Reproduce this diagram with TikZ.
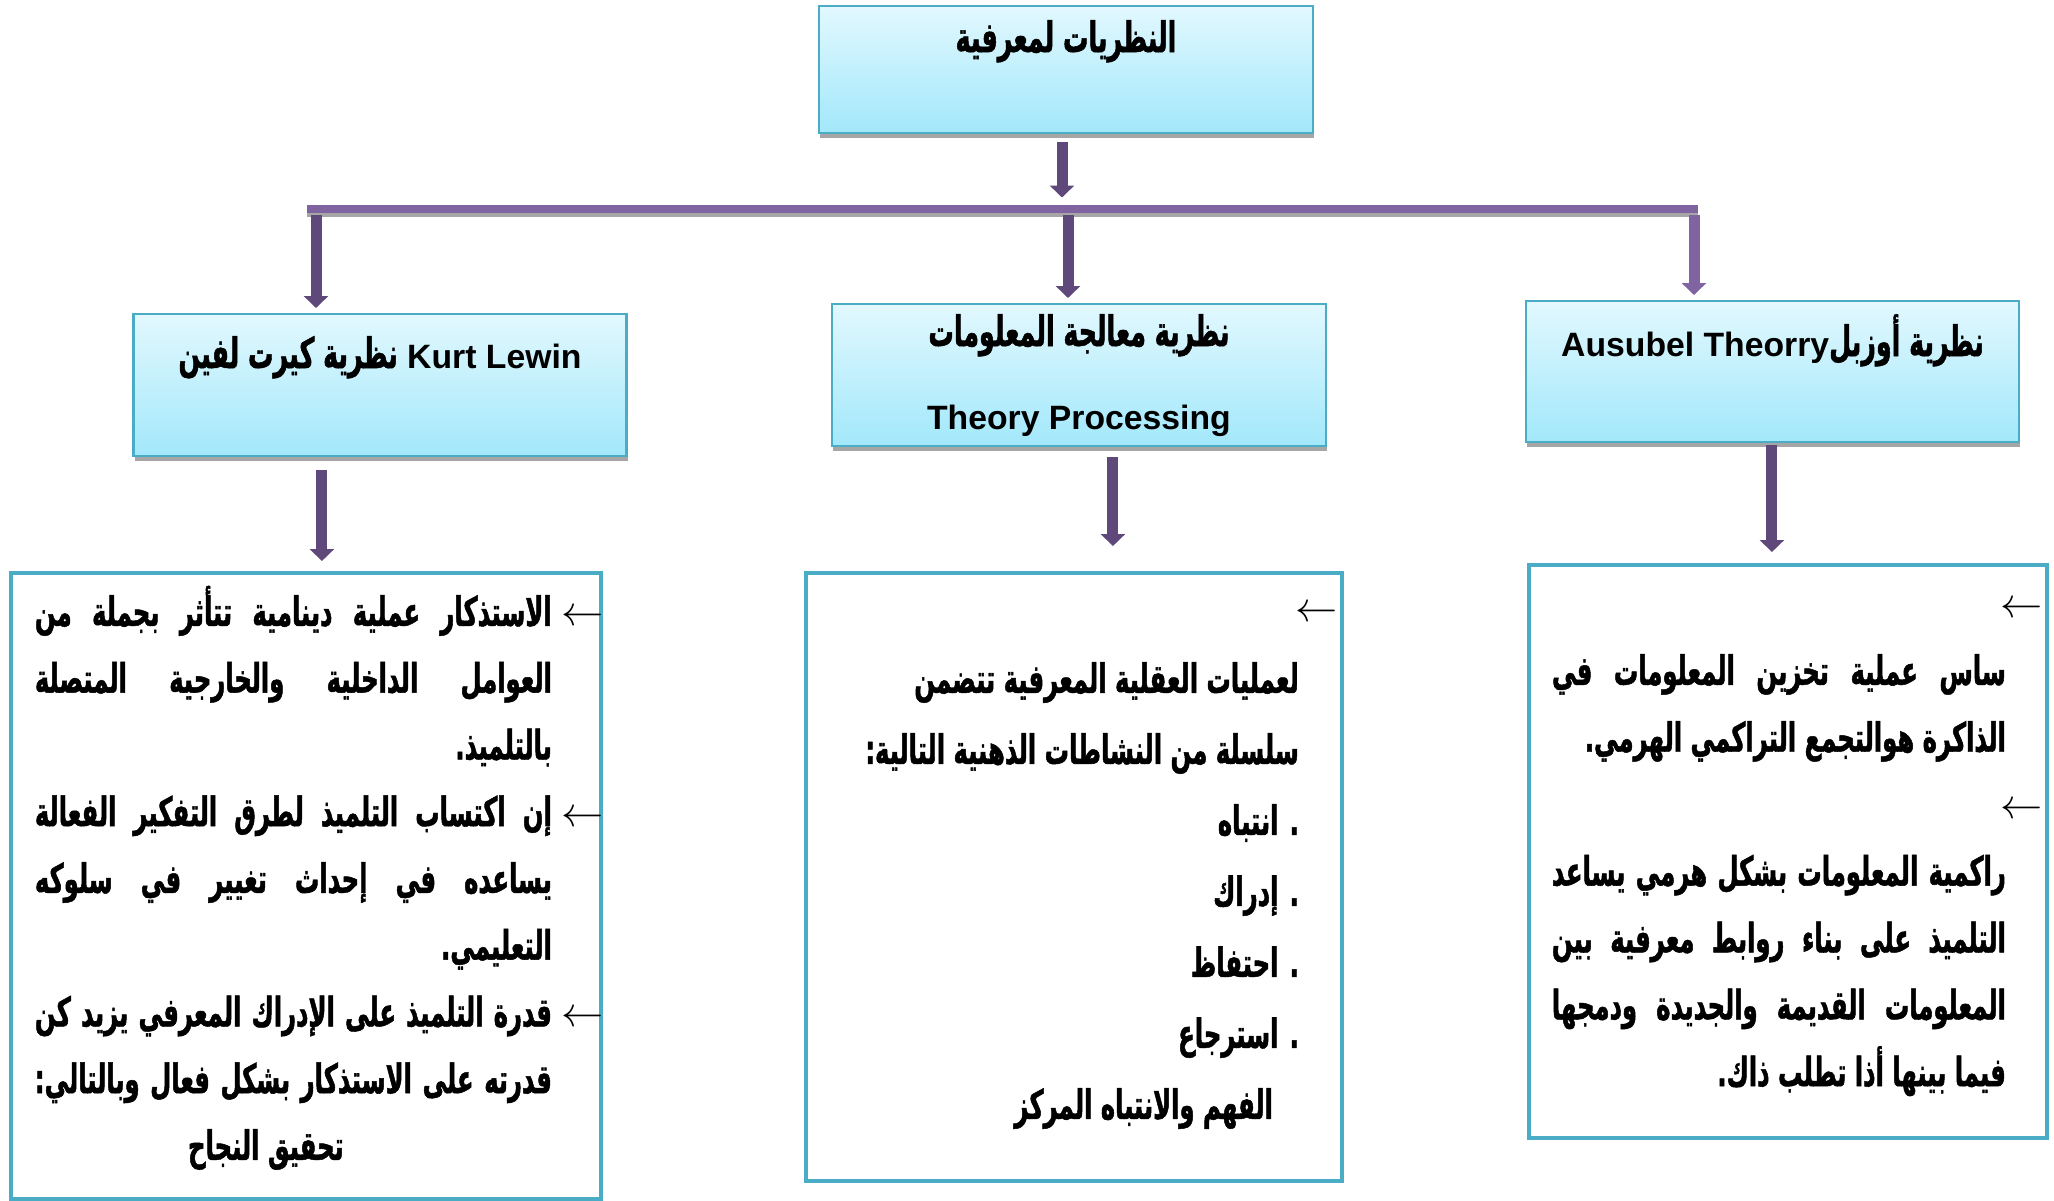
\documentclass[tikz,border=0pt]{standalone}
\usepackage{fontspec}
\setmainfont{Liberation Sans}
\newfontfamily\arabicfont[Script=Arabic,FakeStretch=0.6,BoldFeatures={FakeBold=1.2}]{DejaVu Sans}
\usetikzlibrary{arrows.meta,calc,positioning,shadows}
\TeXXeTstate=1

\definecolor{boxedge}{HTML}{4BACC6}
\definecolor{boxtop}{HTML}{E2F8FE}
\definecolor{boxbottom}{HTML}{A2E8FB}
\definecolor{flowpurple}{HTML}{5F497A}
\definecolor{barpurple}{HTML}{8064A2}
\definecolor{shadowgray}{HTML}{A6A6A6}

\newlength\notesleft
\newlength\notesright
\newcommand\artext[1]{\beginR#1\endR}
\newcommand\ltrtext[1]{\beginL#1\endL{}}
\newcommand\theoryarabic[1]{{\arabicfont\fontsize{12}{14}\selectfont#1}}
\newcommand\notestack[5]{\vtop{\hsize=#1\relax\setlength\notesleft{#2}%
  \setlength\notesright{#3}\baselineskip=#4\relax\lineskiplimit=-\maxdimen #5}}
\newcommand\notejust[1]{\hbox to\hsize{\hskip\notesleft
  \spaceskip=.25em plus 1fil\artext{#1}\hskip\notesright}}
\newcommand\noteitem[1]{\hbox to\hsize{\hskip\notesleft
  \spaceskip=.25em plus 1fil\artext{#1}\rlap{\hskip0.1cm$\leftarrow$}\hskip\notesright}}
\newcommand\noteflush[2][0cm]{\hbox to\hsize{\hfil\artext{#2}\hskip#1\hskip\notesright}}
\newcommand\notecentre[2][0cm]{\hbox to\hsize{\hskip\notesleft\hfil\artext{#2}\hfil
  \hskip#1\hskip\notesright}}
\newcommand\notearrow{\hbox to\hsize{\hfil$\leftarrow$\hskip0.04cm}}

\tikzset{
  theory box/.style={anchor=north,draw=boxedge,line width=0.6pt,
    top color=boxtop,bottom color=boxbottom,minimum width=4.93cm,inner sep=0pt,
    drop shadow={shadow xshift=0.01cm,shadow yshift=-0.05cm,fill=shadowgray,opacity=1},
    font=\bfseries\fontsize{9.6}{11.5}\selectfont},
  note box/.style={anchor=north west,draw=boxedge,line width=1.1pt,fill=white,
    inner sep=0pt,font=\arabicfont\bfseries\fontsize{11.5}{13}\selectfont},
  flow arrow/.style={-{Triangle[width=0.24cm,length=0.12cm]},line width=0.11cm,
    flowpurple},
  bar line/.style={line width=0.08cm,barpurple},
  bar shadow/.style={line width=0.08cm,shadowgray,transform canvas={yshift=-0.04cm}}
}

\begin{document}
\begin{tikzpicture}[x=1cm,y=1cm]
  \useasboundingbox (0,0) rectangle (20.54,-12);
  % theory boxes
  \node[theory box,minimum width=4.94cm,text height=0.46cm,text depth=0.81cm]
    (theorytop) at (10.66,-0.05) {\theoryarabic{\artext{النظريات لمعرفية}}};
  \node[theory box,text height=0.54cm,text depth=0.88cm]
    (theorylewin) at (3.80,-3.13)
    {\artext{\ltrtext{Kurt Lewin} \theoryarabic{نظرية كيرت لفين}}};
  \node[theory box,minimum width=4.94cm,text height=0.42cm,text depth=1.00cm]
    (theoryprocessing) at (10.79,-3.03)
    {\begin{tabular}[t]{@{}c@{}}\theoryarabic{\artext{نظرية معالجة المعلومات}}\\[0.43cm]
     Theory Processing\end{tabular}};
  \node[theory box,text height=0.55cm,text depth=0.86cm]
    (theoryausubel) at (17.725,-3.00)
    {\artext{\theoryarabic{نظرية أوزبل}\ltrtext{Ausubel Theorry}}};
  % note boxes
  \node[note box,text height=0.53cm,text depth=5.73cm] (notelewin) at (0.09,-5.71)
    {\notestack{5.90cm}{0.24cm}{0.49cm}{0.6675cm}{%
      \noteitem{الاستذكار عملية دينامية تتأثر بجملة من}
      \notejust{العوامل الداخلية والخارجية المتصلة}
      \noteflush{بالتلميذ.}
      \noteitem{إن اكتساب التلميذ لطرق التفكير الفعالة}
      \notejust{يساعده في إحداث تغيير في سلوكه}
      \noteflush{التعليمي.}
      \noteitem{قدرة التلميذ على الإدراك المعرفي يزيد كن}
      \notejust{قدرته على الاستذكار بشكل فعال وبالتالي:}
      \notecentre[0.55cm]{تحقيق النجاح}}};
  \node[note box,text height=0.49cm,text depth=5.59cm] (noteprocessing) at (8.04,-5.71)
    {\notestack{5.36cm}{0.2cm}{0.43cm}{0.71cm}{%
      \notearrow
      \noteflush{لعمليات العقلية المعرفية تتضمن}
      \noteflush{سلسلة من النشاطات الذهنية التالية:}
      \noteflush{. انتباه}
      \noteflush{. إدراك}
      \noteflush{. احتفاظ}
      \noteflush{. استرجاع}
      \noteflush[0.26cm]{الفهم والانتباه المركز}}};
  \node[note box,text height=0.53cm,text depth=5.20cm] (noteausubel) at (15.27,-5.63)
    {\notestack{5.18cm}{0.23cm}{0.41cm}{0.669cm}{%
      \notearrow
      \notejust{ساس عملية تخزين المعلومات في}
      \noteflush{الذاكرة هوالتجمع التراكمي الهرمي.}
      \notearrow
      \notejust{راكمية المعلومات بشكل هرمي يساعد}
      \notejust{التلميذ على بناء روابط معرفية بين}
      \notejust{المعلومات القديمة والجديدة ودمجها}
      \noteflush{فيما بينها أذا تطلب ذاك.}}};
  % bar and connectors
  \coordinate (barwest) at (3.07,-2.085);
  \coordinate (bareast) at (16.98,-2.085);
  \coordinate (droplewin) at (3.16,-2.085);
  \coordinate (dropprocessing) at (10.68,-2.085);
  \coordinate (dropausubel) at (16.94,-2.085);
  \draw[bar shadow] (barwest) -- (bareast);
  \draw[bar line] (barwest) -- (bareast);
  \draw[flow arrow,shorten <=0.08cm,shorten >=0.11cm]
    ([xshift=-0.04cm]theorytop.south) -- ([xshift=-0.04cm]theorytop.south |- barwest);
  \foreach \name/\tone in {lewin/flowpurple,processing/flowpurple,ausubel/barpurple}
    \draw[flow arrow,\tone,shorten <=0.06cm,shorten >=0.05cm]
      (drop\name) -- (drop\name |- theory\name.north);
  \foreach \name/\shift/\from/\to in
      {lewin/0.16/0.13/0.10,processing/0.39/0.10/0.25,ausubel/-0.16/0.02/0.11}
    \draw[flow arrow,shorten <=\from cm,shorten >=\to cm]
      ([xshift=\shift cm]theory\name.south -| note\name.north)
      -- ([xshift=\shift cm]note\name.north);
\end{tikzpicture}
\end{document}
